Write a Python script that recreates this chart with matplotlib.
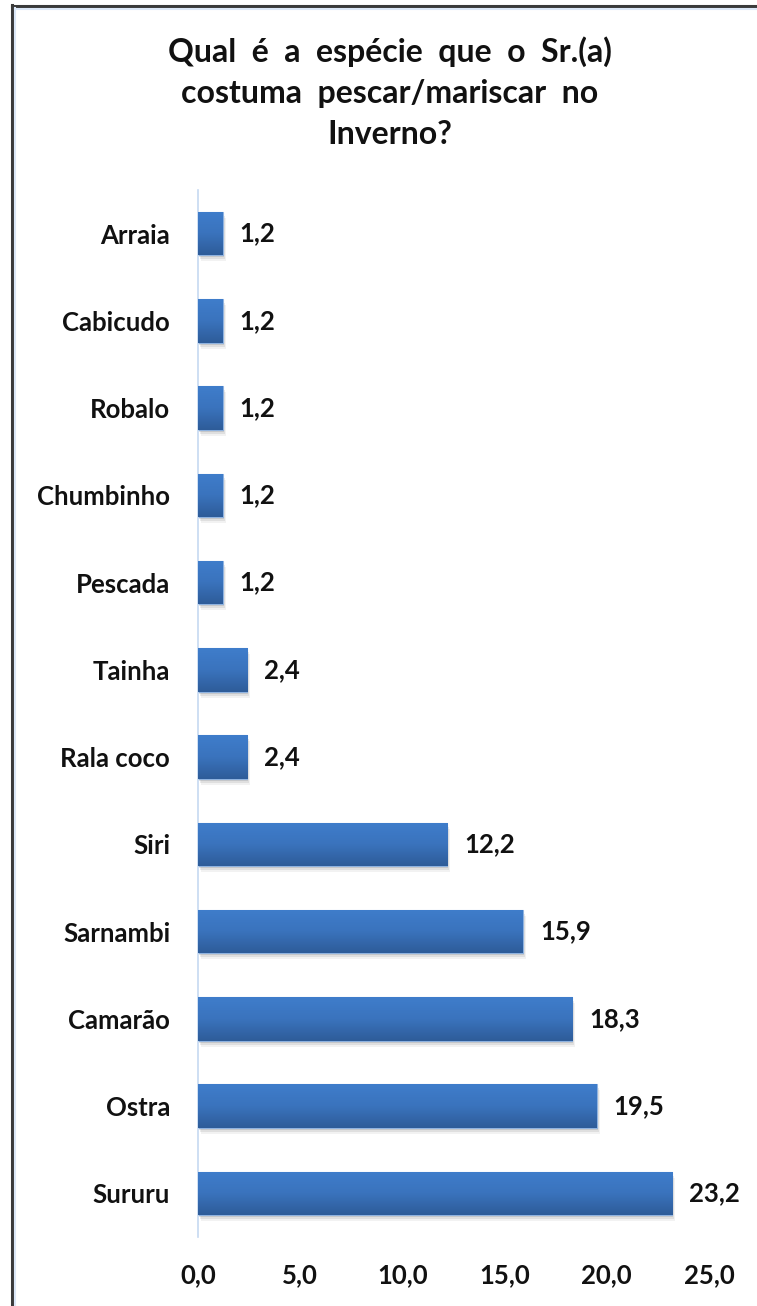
import matplotlib
matplotlib.use("Agg")
import matplotlib.pyplot as plt
import matplotlib.transforms as mtransforms
from matplotlib.colors import LinearSegmentedColormap
from matplotlib.lines import Line2D
import numpy as np

# Data
categories = ["Arraia", "Cabicudo", "Robalo", "Chumbinho", "Pescada", "Tainha",
              "Rala coco", "Siri", "Sarnambi", "Camarão", "Ostra", "Sururu"]
values = [1.2, 1.2, 1.2, 1.2, 1.2, 2.4, 2.4, 12.2, 15.9, 18.3, 19.5, 23.2]
x_ticks = [0, 5, 10, 15, 20, 25]
title = "Qual  é  a  espécie  que  o  Sr.(a)\ncostuma  pescar/mariscar  no\nInverno?"

FONT = ["Lato", "DejaVu Sans"]
plt.rcParams["font.family"] = FONT
LABEL_SIZE = 18.5

W, H = 757, 1306
fig = plt.figure(figsize=(W / 100, H / 100), dpi=100)
fig.patch.set_facecolor("white")

ax = fig.add_axes([198 / W, 1 - 1237 / H, (709 - 198) / W, (1237 - 190) / H])
ax.set_facecolor("white")

n = len(categories)
pos = np.arange(n)
bar_h = 0.5

# vertical gradient for the bar fill (light on top, darker at bottom)
grad = LinearSegmentedColormap.from_list("barfill", ["#3f7dcb", "#3a73bd", "#2e5c99"])

# soft shadow beneath the bars
for k, a in zip([0, 1, 2], [0.10, 0.08, 0.05]):
    off = mtransforms.ScaledTranslation((1 + k) / 100, -(2 + 2 * k) / 100, fig.dpi_scale_trans)
    ax.barh(pos, values, height=bar_h, color="#000000", alpha=a, linewidth=0,
            transform=ax.transData + off, zorder=1)

bars = ax.barh(pos, values, height=bar_h, color="#3a73bd",
               edgecolor="#8fb3e0", linewidth=0.8, zorder=2)

gimg = np.linspace(0, 1, 64).reshape(-1, 1)
for b in bars:
    x0, y0 = b.get_x(), b.get_y()
    w, h = b.get_width(), b.get_height()
    im = ax.imshow(gimg, cmap=grad, aspect="auto", extent=[x0, x0 + w, y0 + h, y0],
                   origin="upper", zorder=3, interpolation="bicubic")
    im.set_clip_path(b)

for b, v in zip(bars, values):
    ax.annotate(f"{v:.1f}".replace(".", ","),
                xy=(v, b.get_y() + b.get_height() / 2),
                xytext=(17, 0), textcoords="offset pixels",
                ha="left", va="center", fontsize=LABEL_SIZE, fontweight="bold",
                color="#111111", zorder=4)

ax.set_xlim(0, 25)
ax.set_ylim(n - 0.5, -0.5)
ax.set_yticks(pos)
ax.set_yticklabels(categories, fontsize=LABEL_SIZE, fontweight="bold", color="#111111")
ax.set_xticks(x_ticks)
ax.set_xticklabels([f"{t:.1f}".replace(".", ",") for t in x_ticks],
                   fontsize=LABEL_SIZE, fontweight="bold", color="#111111")
ax.tick_params(axis="y", length=0, pad=20)
ax.tick_params(axis="x", length=0, pad=19)

for s in ["top", "right", "bottom"]:
    ax.spines[s].set_visible(False)
ax.spines["left"].set_color("#c6d9f1")
ax.spines["left"].set_linewidth(1.2)

fig.text(390 / W, 1 - 93 / H, title, ha="center", va="center",
         fontsize=23, fontweight="bold", color="#111111", linespacing=1.5)

# outer frame: left and top edges
fig.add_artist(Line2D([12 / W, 12 / W], [0, 1 - 5 / H], transform=fig.transFigure,
                      color="#3a3a3a", linewidth=2.2))
fig.add_artist(Line2D([12 / W, 1], [1 - 6 / H, 1 - 6 / H], transform=fig.transFigure,
                      color="#3a3a3a", linewidth=2.2))
fig.add_artist(Line2D([15 / W, 15 / W], [0, 1 - 8 / H], transform=fig.transFigure,
                      color="#dbe7f7", linewidth=1.5))
fig.add_artist(Line2D([15 / W, 1], [1 - 9 / H, 1 - 9 / H], transform=fig.transFigure,
                      color="#dbe7f7", linewidth=1.5))

fig.savefig("out.png", dpi=100, facecolor="white")
